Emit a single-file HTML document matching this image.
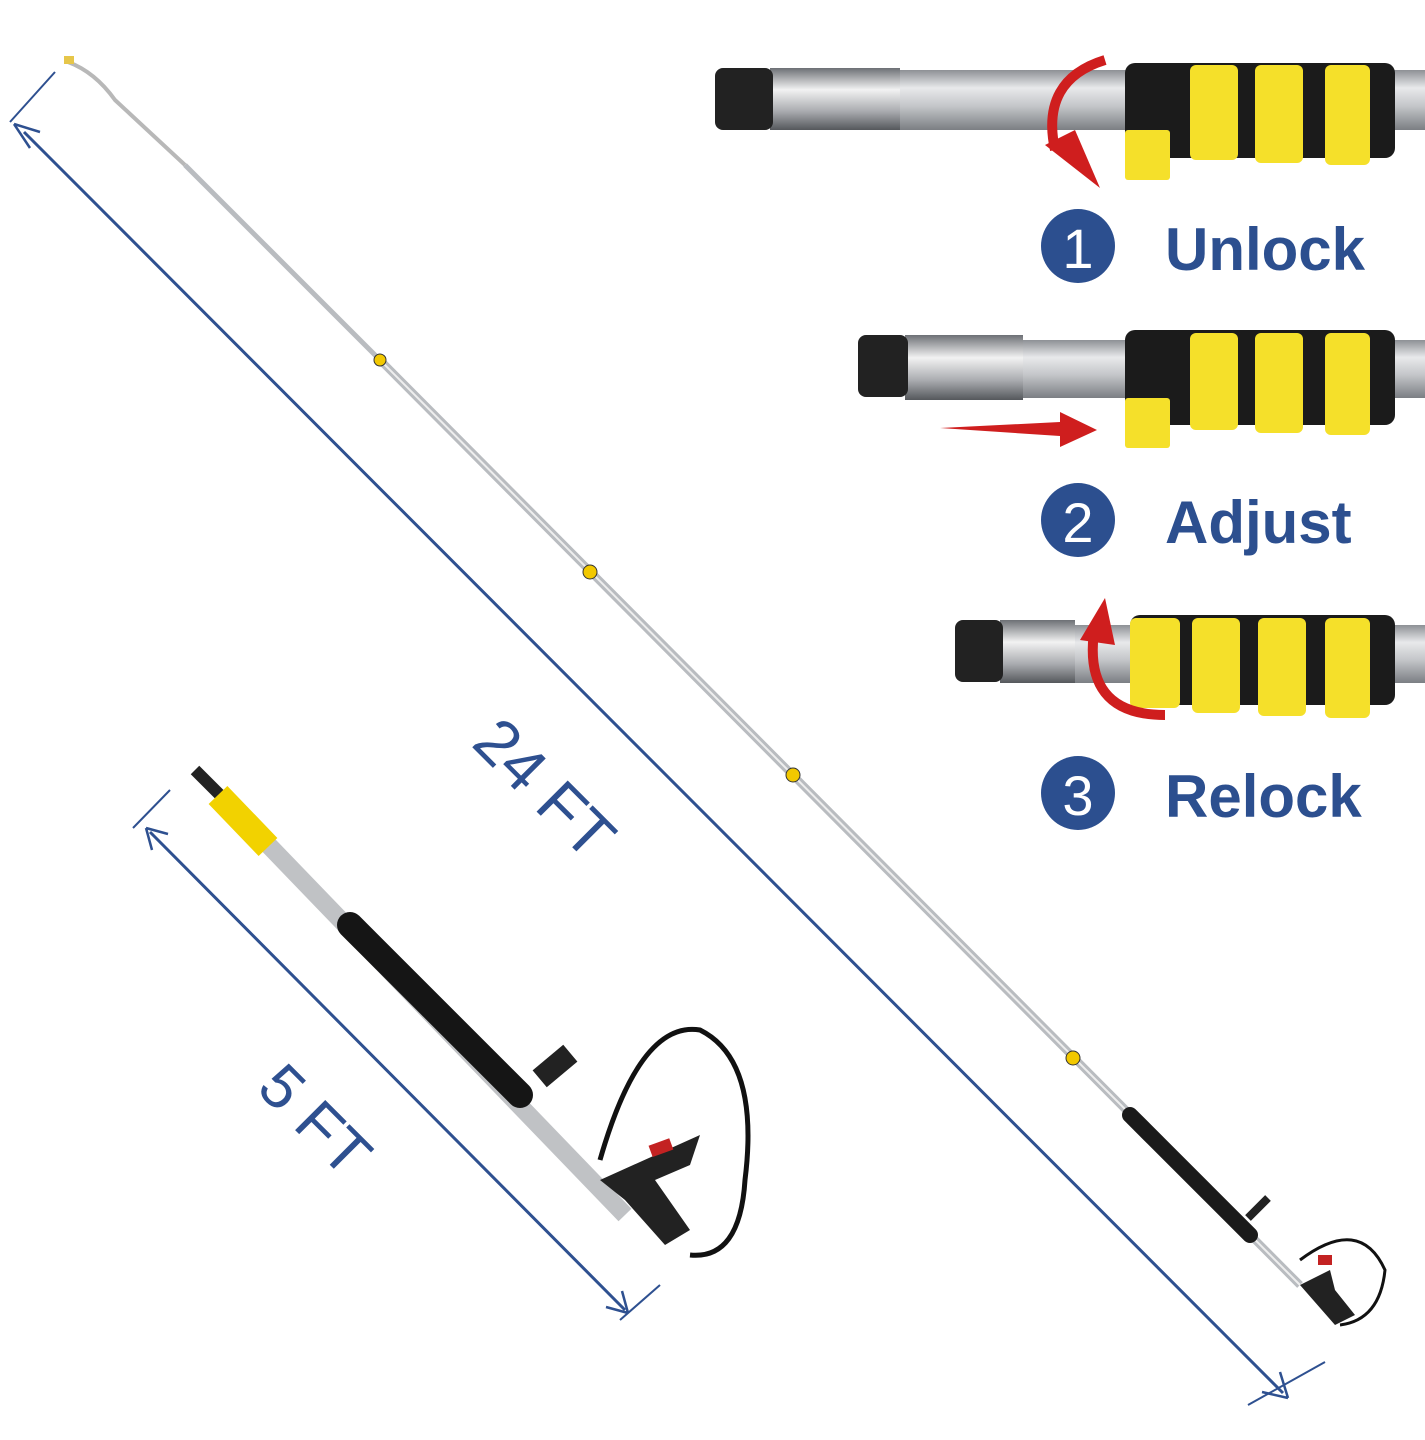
<!DOCTYPE html>
<html><head><meta charset="utf-8"><style>
html,body{margin:0;padding:0;background:#fff;}
svg{display:block;}
</style></head><body>
<svg width="1425" height="1440" viewBox="0 0 1425 1440" xmlns="http://www.w3.org/2000/svg" font-family="Liberation Sans, sans-serif">
<defs>
<linearGradient id="tube" x1="0" y1="0" x2="0" y2="1">
<stop offset="0" stop-color="#8d9095"/><stop offset="0.3" stop-color="#e8e9eb"/><stop offset="0.6" stop-color="#c4c6c9"/><stop offset="1" stop-color="#7b7e83"/></linearGradient>
<linearGradient id="fit" x1="0" y1="0" x2="0" y2="1">
<stop offset="0" stop-color="#6d7075"/><stop offset="0.35" stop-color="#f2f2f2"/><stop offset="0.7" stop-color="#a9abaf"/><stop offset="1" stop-color="#55585c"/></linearGradient>
</defs>

<!-- 24 FT dimension -->
<line x1="10" y1="122" x2="55" y2="72" stroke="#2e5090" stroke-width="2"/>
<line x1="1248" y1="1405" x2="1325" y2="1362" stroke="#2e5090" stroke-width="2"/>
<line x1="24" y1="132" x2="1283" y2="1393" stroke="#2e5090" stroke-width="3"/>
<path d="M14,124 L30,148 M14,124 L40,132" stroke="#2e5090" stroke-width="2.5" fill="none"/>
<path d="M1288,1398 L1262,1392 M1288,1398 L1280,1372" stroke="#2e5090" stroke-width="2.5" fill="none"/>
<text x="0" y="0" font-size="64" fill="#2e5090" transform="translate(470,745) rotate(45)">24 FT</text>

<!-- long pole -->
<path d="M68,62 Q95,72 115,100 L185,165" stroke="#b8b8b8" stroke-width="4" fill="none"/>
<rect x="64" y="56" width="10" height="8" fill="#e6c64a"/>
<line x1="185" y1="165" x2="380" y2="360" stroke="#b9bcc0" stroke-width="5"/>
<line x1="380" y1="360" x2="1300" y2="1285" stroke="#b9bcc0" stroke-width="8"/>
<line x1="380" y1="360" x2="1300" y2="1285" stroke="#eeeeee" stroke-width="2"/>
<g fill="#f2c800" stroke="#333" stroke-width="1">
<circle cx="380" cy="360" r="6"/><circle cx="590" cy="572" r="7"/><circle cx="793" cy="775" r="7"/><circle cx="1073" cy="1058" r="7"/>
</g>
<line x1="1130" y1="1115" x2="1250" y2="1235" stroke="#1a1a1a" stroke-width="16" stroke-linecap="round"/>
<line x1="1248" y1="1218" x2="1268" y2="1198" stroke="#222" stroke-width="8"/>
<path d="M1300,1260 Q1360,1215 1385,1270 Q1380,1320 1340,1325" stroke="#111" stroke-width="3" fill="none"/>
<path d="M1300,1285 L1335,1325 L1355,1315 L1335,1290 L1330,1270 Z" fill="#222"/>
<rect x="1318" y="1255" width="14" height="10" fill="#c32222"/>

<!-- 5 FT dimension -->
<line x1="133" y1="828" x2="170" y2="790" stroke="#2e5090" stroke-width="2"/>
<line x1="620" y1="1320" x2="660" y2="1285" stroke="#2e5090" stroke-width="2"/>
<line x1="150" y1="832" x2="625" y2="1310" stroke="#2e5090" stroke-width="3"/>
<path d="M146,828 L152,850 M146,828 L168,834" stroke="#2e5090" stroke-width="2.5" fill="none"/>
<path d="M628,1313 L606,1307 M628,1313 L622,1291" stroke="#2e5090" stroke-width="2.5" fill="none"/>
<text x="0" y="0" font-size="62" fill="#2e5090" transform="translate(255,1090) rotate(45)">5 FT</text>

<!-- short pole -->
<line x1="195" y1="770" x2="225" y2="800" stroke="#222" stroke-width="12"/>
<line x1="225" y1="800" x2="625" y2="1215" stroke="#c0c2c5" stroke-width="18"/>
<line x1="218" y1="795" x2="268" y2="847" stroke="#f2d200" stroke-width="26"/>
<line x1="350" y1="925" x2="520" y2="1095" stroke="#151515" stroke-width="26" stroke-linecap="round"/>
<rect x="535" y="1055" width="40" height="22" fill="#222" transform="rotate(-40 555 1066)"/>
<path d="M600,1160 Q640,1020 700,1030 Q760,1060 745,1180 Q740,1260 690,1255" stroke="#111" stroke-width="5" fill="none"/>
<path d="M600,1180 L700,1135 L690,1165 L655,1180 L690,1230 L665,1245 L625,1200 Z" fill="#222"/>
<rect x="650" y="1142" width="22" height="12" fill="#c32222" transform="rotate(-20 660 1148)"/>

<!-- Panel 1 -->
<g>
<rect x="900" y="70" width="525" height="60" fill="url(#tube)"/>
<rect x="770" y="68" width="130" height="62" fill="url(#fit)"/>
<rect x="715" y="68" width="58" height="62" rx="8" fill="#222"/>
<rect x="1125" y="63" width="270" height="95" rx="10" fill="#1b1b1b"/>
<g fill="#f5e02a"><rect x="1190" y="65" width="48" height="95" rx="6"/><rect x="1255" y="65" width="48" height="98" rx="6"/><rect x="1325" y="65" width="45" height="100" rx="6"/><rect x="1125" y="130" width="45" height="50" rx="3"/></g>
<path d="M1105,60 Q1040,80 1055,150" stroke="#cf1e1e" stroke-width="10" fill="none"/>
<path d="M1045,145 L1100,188 L1075,130 Z" fill="#cf1e1e"/>
<circle cx="1078" cy="246" r="37" fill="#2c4f8f"/>
<text x="1078" y="268" font-size="56" fill="#fff" text-anchor="middle">1</text>
<text x="1165" y="270" font-size="60" font-weight="bold" fill="#2c4f8f">Unlock</text>
</g>

<!-- Panel 2 -->
<g>
<rect x="1020" y="340" width="405" height="58" fill="url(#tube)"/>
<rect x="905" y="335" width="118" height="65" fill="url(#fit)"/>
<rect x="858" y="335" width="50" height="62" rx="8" fill="#222"/>
<rect x="1125" y="330" width="270" height="95" rx="10" fill="#1b1b1b"/>
<g fill="#f5e02a"><rect x="1190" y="333" width="48" height="97" rx="6"/><rect x="1255" y="333" width="48" height="100" rx="6"/><rect x="1325" y="333" width="45" height="102" rx="6"/><rect x="1125" y="398" width="45" height="50" rx="3"/></g>
<path d="M940,428 L1060,422 L1060,412 L1097,430 L1060,447 L1060,436 Z" fill="#cf1e1e"/>
<circle cx="1078" cy="520" r="37" fill="#2c4f8f"/>
<text x="1078" y="542" font-size="56" fill="#fff" text-anchor="middle">2</text>
<text x="1165" y="543" font-size="60" font-weight="bold" fill="#2c4f8f">Adjust</text>
</g>

<!-- Panel 3 -->
<g>
<rect x="1070" y="625" width="355" height="58" fill="url(#tube)"/>
<rect x="1000" y="620" width="75" height="63" fill="url(#fit)"/>
<rect x="955" y="620" width="48" height="62" rx="8" fill="#222"/>
<rect x="1130" y="615" width="265" height="90" rx="10" fill="#1b1b1b"/>
<g fill="#f5e02a"><rect x="1130" y="618" width="50" height="90" rx="6"/><rect x="1192" y="618" width="48" height="95" rx="6"/><rect x="1258" y="618" width="48" height="98" rx="6"/><rect x="1325" y="618" width="45" height="100" rx="6"/></g>
<path d="M1165,715 Q1080,715 1095,625" stroke="#cf1e1e" stroke-width="10" fill="none"/>
<path d="M1080,640 L1105,598 L1115,645 Z" fill="#cf1e1e"/>
<circle cx="1078" cy="793" r="37" fill="#2c4f8f"/>
<text x="1078" y="815" font-size="56" fill="#fff" text-anchor="middle">3</text>
<text x="1165" y="817" font-size="60" font-weight="bold" fill="#2c4f8f">Relock</text>
</g>
</svg>
</body></html>
